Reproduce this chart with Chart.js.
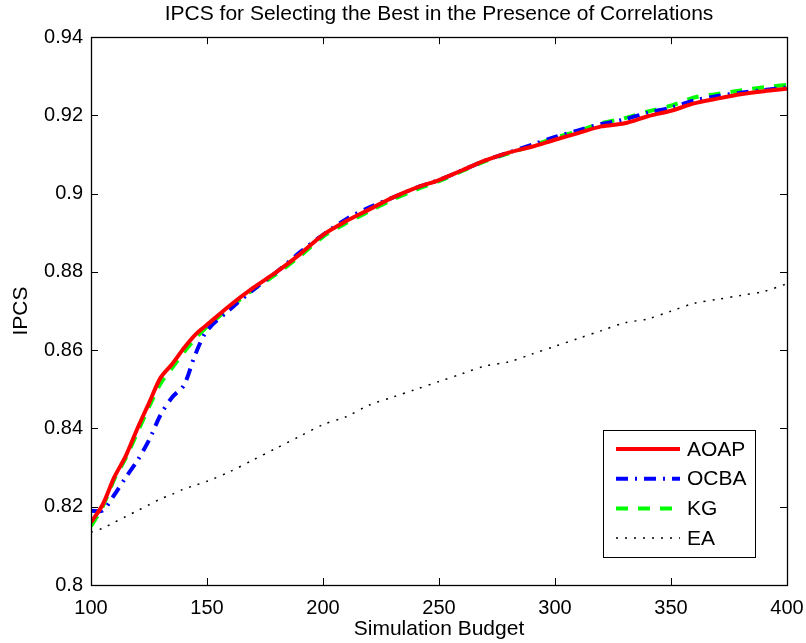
<!DOCTYPE html>
<html>
<head>
<meta charset="utf-8">
<script src="https://cdn.jsdelivr.net/npm/chart.js@4"></script>
<style>
html,body{margin:0;padding:0;background:#fff;}
#wrap{width:806px;height:643px;}
</style>
</head>
<body>
<div id="wrap"><canvas id="chart"></canvas></div>
<script>
// simulation budget (x values)
let budget = [100,105,110,115,120,125,130,135,140,145,150,160,170,180,190,200,210,220,230,240,250,260,270,280,290,300,310,320,330,340,350,360,370,380,390,400];

let aoap = [0.8160,0.8205,0.8275,0.8330,0.8400,0.8465,0.8530,0.8565,0.8605,0.8640,0.8665,0.8715,0.8760,0.8800,0.8845,0.8895,0.8930,0.8960,0.8990,0.9015,0.9035,0.9060,0.9085,0.9105,0.9120,0.9138,0.9155,0.9172,0.9180,0.9198,0.9212,0.9231,0.9243,0.9254,0.9262,0.9268];
let ocba = [0.8190,0.8190,0.8230,0.8275,0.8318,0.8370,0.8435,0.8480,0.8510,0.8590,0.8650,0.8705,0.8755,0.8800,0.8850,0.8895,0.8935,0.8965,0.8990,0.9015,0.9035,0.9060,0.9085,0.9105,0.9125,0.9145,0.9162,0.9178,0.9190,0.9207,0.9220,0.9238,0.9250,0.9258,0.9265,0.9272];
let kg = [0.8150,0.8200,0.8270,0.8325,0.8390,0.8455,0.8515,0.8555,0.8595,0.8630,0.8660,0.8710,0.8755,0.8795,0.8840,0.8890,0.8925,0.8955,0.8985,0.9010,0.9032,0.9058,0.9083,0.9103,0.9122,0.9143,0.9160,0.9180,0.9193,0.9210,0.9225,0.9246,0.9255,0.9264,0.9272,0.9278];
let ea = [0.8135,0.8145,0.8160,0.8175,0.8190,0.8205,0.8220,0.8232,0.8245,0.8255,0.8265,0.8290,0.8320,0.8350,0.8380,0.8410,0.8430,0.8460,0.8480,0.8500,0.8520,0.8540,0.8560,0.8570,0.8590,0.8610,0.8630,0.8650,0.8670,0.8680,0.8700,0.8720,0.8730,0.8740,0.8750,0.8770];

let xTicks = [100,150,200,250,300,350,400];
let yTicks = [0.8,0.82,0.84,0.86,0.88,0.9,0.92,0.94];

const FONT = "'Liberation Sans', Arial, sans-serif";

function pts(ys){
return budget.map((x,i)=>({x:x,y:ys[i]}));
}

// center the title over the plot area, like matlab does
const titlePlugin = {
id:"titleOverPlot",
afterLayout(chart){
const t = chart.titleBlock;
if(t){
t.left = chart.chartArea.left;
t.right = chart.chartArea.right;
t.width = t.right - t.left;
}
}
};

// box with inward ticks on all sides
const boxPlugin = {
id:"boxTicks",
afterDraw(chart){
const ctx = chart.ctx;
const a = chart.chartArea;
const xs = chart.scales.x, ys = chart.scales.y;
ctx.save();
ctx.strokeStyle = "#000";
ctx.lineWidth = 1;
ctx.setLineDash([]);
xTicks.forEach(v=>{
let px = Math.round(xs.getPixelForValue(v))+0.5;
ctx.beginPath();
ctx.moveTo(px,a.bottom); ctx.lineTo(px,a.bottom-7);
ctx.moveTo(px,a.top); ctx.lineTo(px,a.top+7);
ctx.stroke();
});
yTicks.forEach(v=>{
let py = Math.round(ys.getPixelForValue(v))+0.5;
ctx.beginPath();
ctx.moveTo(a.left,py); ctx.lineTo(a.left+7,py);
ctx.moveTo(a.right,py); ctx.lineTo(a.right-7,py);
ctx.stroke();
});
ctx.lineWidth = 1.3;
ctx.strokeRect(Math.round(a.left)+0.5,Math.round(a.top)+0.5,Math.round(a.right-a.left),Math.round(a.bottom-a.top));
ctx.restore();
}
};

// legend box in the lower right corner
const legendPlugin = {
id:"boxLegend",
afterDraw(chart){
const ctx = chart.ctx;
const a = chart.chartArea;
const w = 152, h = 127;
const x0 = a.right - 32 - w, y0 = a.bottom - 28 - h;
ctx.save();
ctx.fillStyle = "#fff";
ctx.fillRect(x0,y0,w,h);
ctx.strokeStyle = "#000";
ctx.lineWidth = 1;
ctx.setLineDash([]);
ctx.strokeRect(Math.round(x0)+0.5,Math.round(y0)+0.5,w,h);
ctx.font = "21px " + FONT;
ctx.textBaseline = "middle";
chart.data.datasets.forEach((ds,i)=>{
let y = y0 + 19 + i*29.7;
ctx.strokeStyle = ds.borderColor;
ctx.lineWidth = ds.borderWidth;
ctx.setLineDash(ds.borderDash || []);
ctx.beginPath();
ctx.moveTo(x0+13,y); ctx.lineTo(x0+77,y);
ctx.stroke();
ctx.setLineDash([]);
ctx.fillStyle = "#000";
ctx.fillText(ds.label,x0+84,y+1);
});
ctx.restore();
}
};

new Chart(document.getElementById("chart"),{
type:"line",
data:{
datasets:[
{label:"AOAP",data:pts(aoap),borderColor:"#ff0000",borderWidth:4,borderDash:[]},
{label:"OCBA",data:pts(ocba),borderColor:"#0000ff",borderWidth:4,borderDash:[12,7,2,7]},
{label:"KG",data:pts(kg),borderColor:"#00ff00",borderWidth:4,borderDash:[12,10]},
{label:"EA",data:pts(ea),borderColor:"#000000",borderWidth:1.5,borderDash:[2,7]}
]
},
options:{
responsive:true,
maintainAspectRatio:false,
animation:false,
layout:{padding:{left:0,right:19,top:0,bottom:0}},
elements:{point:{radius:0},line:{tension:0.3}},
plugins:{
legend:{display:false},
tooltip:{enabled:false},
title:{
display:true,
text:"IPCS for Selecting the Best in the Presence of Correlations",
color:"#000",
font:{family:FONT,size:21,weight:"normal",lineHeight:1.2},
padding:{top:2,bottom:10}
}
},
scales:{
x:{
type:"linear",
min:100,max:400,
afterBuildTicks:s=>{s.ticks = xTicks.map(v=>({value:v}));},
afterFit:s=>{s.height = 58; s.paddingLeft = 0; s.paddingRight = 0;},
grid:{display:false,drawTicks:false},
border:{display:false},
ticks:{color:"#000",padding:11,maxRotation:0,font:{family:FONT,size:20}},
title:{display:true,text:"Simulation Budget",color:"#000",font:{family:FONT,size:21,lineHeight:1.2},padding:{top:0,bottom:1}}
},
y:{
min:0.8,max:0.94,
afterBuildTicks:s=>{s.ticks = yTicks.map(v=>({value:v}));},
afterFit:s=>{s.width = 91; s.paddingTop = 0; s.paddingBottom = 0;},
grid:{display:false,drawTicks:false},
border:{display:false},
ticks:{color:"#000",padding:8,font:{family:FONT,size:20},callback:v=>String(parseFloat(v.toFixed(2)))},
title:{display:true,text:"IPCS",color:"#000",font:{family:FONT,size:21,lineHeight:1.2},padding:{top:9,bottom:0}}
}
}
},
plugins:[titlePlugin,boxPlugin,legendPlugin]
});
</script>
</body>
</html>
